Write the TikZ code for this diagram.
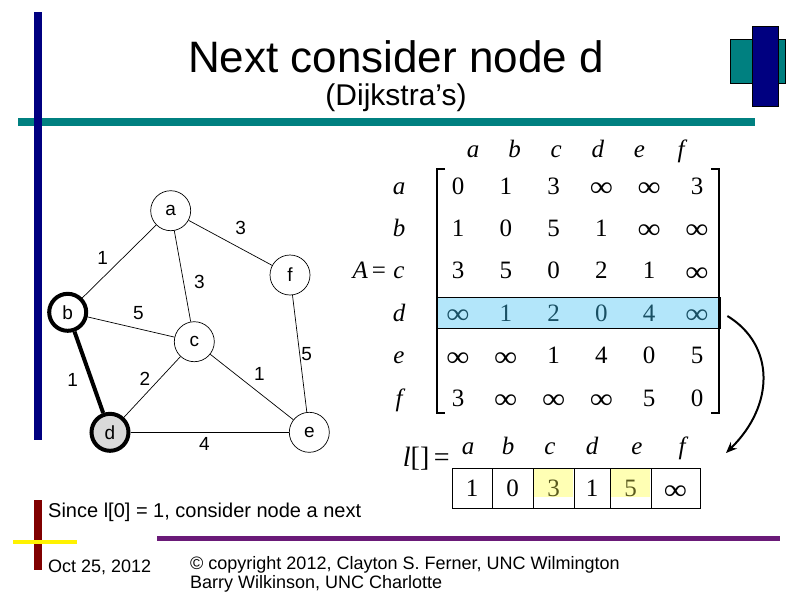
\documentclass[tikz,border=0pt]{standalone}
\usepackage{fontspec}
\setmainfont{Liberation Sans}
\newfontfamily\timesfont{Liberation Serif}
\usetikzlibrary{arrows.meta,positioning}
\definecolor{slidenavy}{RGB}{0,0,128}
\definecolor{slideteal}{RGB}{0,128,128}
\definecolor{slidemaroon}{RGB}{128,0,0}
\definecolor{slidepurple}{RGB}{106,26,120}
\definecolor{rowblue}{RGB}{179,230,250}
\definecolor{rowtext}{RGB}{25,80,100}
\definecolor{cellyellow}{RGB}{255,255,180}
\definecolor{celltext}{RGB}{90,90,30}
\definecolor{visitgray}{RGB}{217,217,217}
\newcommand{\infsym}{\raisebox{-2.5pt}{\scalebox{1.3}[1.15]{∞}}}
\tikzset{
  >=Stealth,
  vtx/.style={circle,draw,line width=0.7pt,inner sep=0pt,minimum size=40pt,fill=white,font=\fontsize{19}{22}\selectfont},
  visited/.style={vtx,line width=4pt,minimum size=37pt},
  edge/.style={line width=0.7pt},
  tree edge/.style={line width=4pt},
  wt/.style={inner sep=0pt,font=\fontsize{19}{22}\selectfont},
  mval/.style={inner sep=0pt,font=\timesfont\fontsize{25}{25}\selectfont},
  mhead/.style={inner sep=0pt,font=\timesfont\itshape\fontsize{25}{25}\selectfont},
  bracket/.style={line width=1.8pt}
}

\begin{document}
\begin{tikzpicture}[x=1pt, y=-1pt,
    % styles for the slide text
    title text/.style={inner sep=0pt,font=\fontsize{44}{48}\selectfont},
    subtitle text/.style={inner sep=0pt,font=\fontsize{30}{34}\selectfont},
    body text/.style={inner sep=0pt,font=\fontsize{20}{24}\selectfont},
    foot text/.style={inner sep=0pt,align=left,font=\fontsize{18}{19}\selectfont},
    lcell/.style={draw,line width=0.8pt,inner sep=0pt,minimum height=40pt,text height=17pt,text depth=0pt,font=\timesfont\fontsize{25}{25}\selectfont},
    curve arrow/.style={-{Stealth[length=11pt,width=9pt]},line width=2pt}
]
\useasboundingbox (0,0) rectangle (794,595);
\fill[white] (0,0) rectangle (794,595);

% --- Slide decoration ---
\fill[slideteal] (18,118) rectangle (755,126);
\fill[slidenavy] (34,12) rectangle (42,440);
\filldraw[fill=slideteal, draw=black, line width=0.6pt] (730,39) rectangle (785,83);
\filldraw[fill=slidenavy, draw=black, line width=0.6pt] (752,26) rectangle (778,106);

\fill[slidepurple] (157,536) rectangle (780,541);
\fill[slidemaroon] (34,500) rectangle (42,570);
\fill[yellow] (13,540) rectangle (77,544);

% --- Title ---
\node[title text, anchor=base] (title) at (396,72) {Next consider node d};
\node[subtitle text, anchor=base] (subtitle) at (396,105) {(Dijkstra’s)};

% --- Graph ---
\node[vtx] (a) at (170.7,210.7) {a};
\node[vtx] (f) at (290,275) {f};
\node[visited] (b) at (67.7,312.3) {b};
\node[vtx] (c) at (194.3,341.7) {c};
\node[visited, fill=visitgray] (d) at (110,432.3) {d};
\node[vtx] (e) at (309.3,432.3) {e};

\foreach \u/\v in {a/b, a/f, a/c, b/c, c/d, c/e, f/e, d/e} {
    \draw[edge] (\u) -- (\v);
}
\draw[tree edge] (b) -- (d);

% edge weights
\foreach \nm/\x/\y/\w in {ab/102.7/258.3/1, af/240.7/228.3/3, ac/199.3/281.7/3, bc/138.3/312.7/5,
    bd/72.7/380/1, dc/145/379.3/2, ce/259.3/374.3/1, fe/306.7/354/5, de/204.3/444.3/4} {
    \node[wt] (w\nm) at (\x,\y) {\w};
}

% --- Adjacency matrix A ---
\node[draw, fill=rowblue, line width=0.8pt, inner sep=0pt, minimum width=283pt, minimum height=31pt] (hlrow) at (578.5,312.5) {};

\foreach \h [count=\j] in {a,b,c,d,e,f} {
    \node[mhead, anchor=base] (ch-\h) at ({431.4+41.6*\j},157) {\h};
}
\foreach \r/\y/\col/\vals in {a/186/black/{0,1,3,\infsym,\infsym,3}, b/228.4/black/{1,0,5,1,\infsym,\infsym},
    c/270.8/black/{3,5,0,2,1,\infsym}, d/313.2/rowtext/{\infsym,1,2,0,4,\infsym},
    e/355.6/black/{\infsym,\infsym,1,4,0,5}, f/398/black/{3,\infsym,\infsym,\infsym,5,0}} {
    \node[mhead, anchor=base] (rl-\r) at (399,\y+8) {\r};
    \foreach \v [count=\j] in \vals {
        \node[mval, anchor=base, text=\col] (m-\r-\j) at ({410.2+47.8*\j},\y+8) {\v};
    }
}
\draw[bracket] (445,169) -- (437,169) -- (437,413) -- (445,413);
\draw[bracket] (711,169) -- (719,169) -- (719,413) -- (711,413);

\node[mhead, anchor=base east] (Aeq) at ([xshift=-7pt]rl-c.base west) {A\,{\upshape=}};

% --- Distance array l[] ---
\foreach \lft/\rgt/\v/\hl [count=\j] in {452/492/1/0, 492/533/0/0, 533/574/3/1, 574/610/1/0, 610/651/5/1, 651/700/\infsym/0} {
    \ifnum\hl=1
        \fill[cellyellow] (\lft+1,469) rectangle (\rgt-1,497);
        \node[lcell, text=celltext, minimum width={\rgt-\lft}] (lc-\j) at ({(\lft+\rgt)/2},488) {\v};
    \else
        \node[lcell, minimum width={\rgt-\lft}] (lc-\j) at ({(\lft+\rgt)/2},488) {\v};
    \fi
}
\foreach \h/\x in {a/468, b/508, c/550, d/592, e/637, f/682} {
    \node[mhead, anchor=base] (lh-\h) at (\x,454) {\h};
}
\node[mval, anchor=base east, font=\timesfont\fontsize{28}{28}\selectfont] (leq) at (450,466) {\textit{l}[]\,=};

% arrow from row d down to l[]
\coordinate (arrS) at ([xshift=7pt, yshift=-3.5pt]hlrow.east);
\coordinate (arrE) at (726,453);
\draw[curve arrow] (arrS) .. controls (775,345) and (775,405) .. (arrE);

% --- Footer ---
\node[body text, anchor=base west] (note) at (48,517) {Since l[0] = 1, consider node a next};
\node[foot text, anchor=base west] (date) at (48,572) {Oct 25, 2012};
\node[foot text, anchor=base west] (copy1) at (190,569) {© copyright 2012, Clayton S. Ferner, UNC Wilmington};
\node[foot text, anchor=base west] (copy2) at (190,588) {Barry Wilkinson, UNC Charlotte};

\end{tikzpicture}
\end{document}
